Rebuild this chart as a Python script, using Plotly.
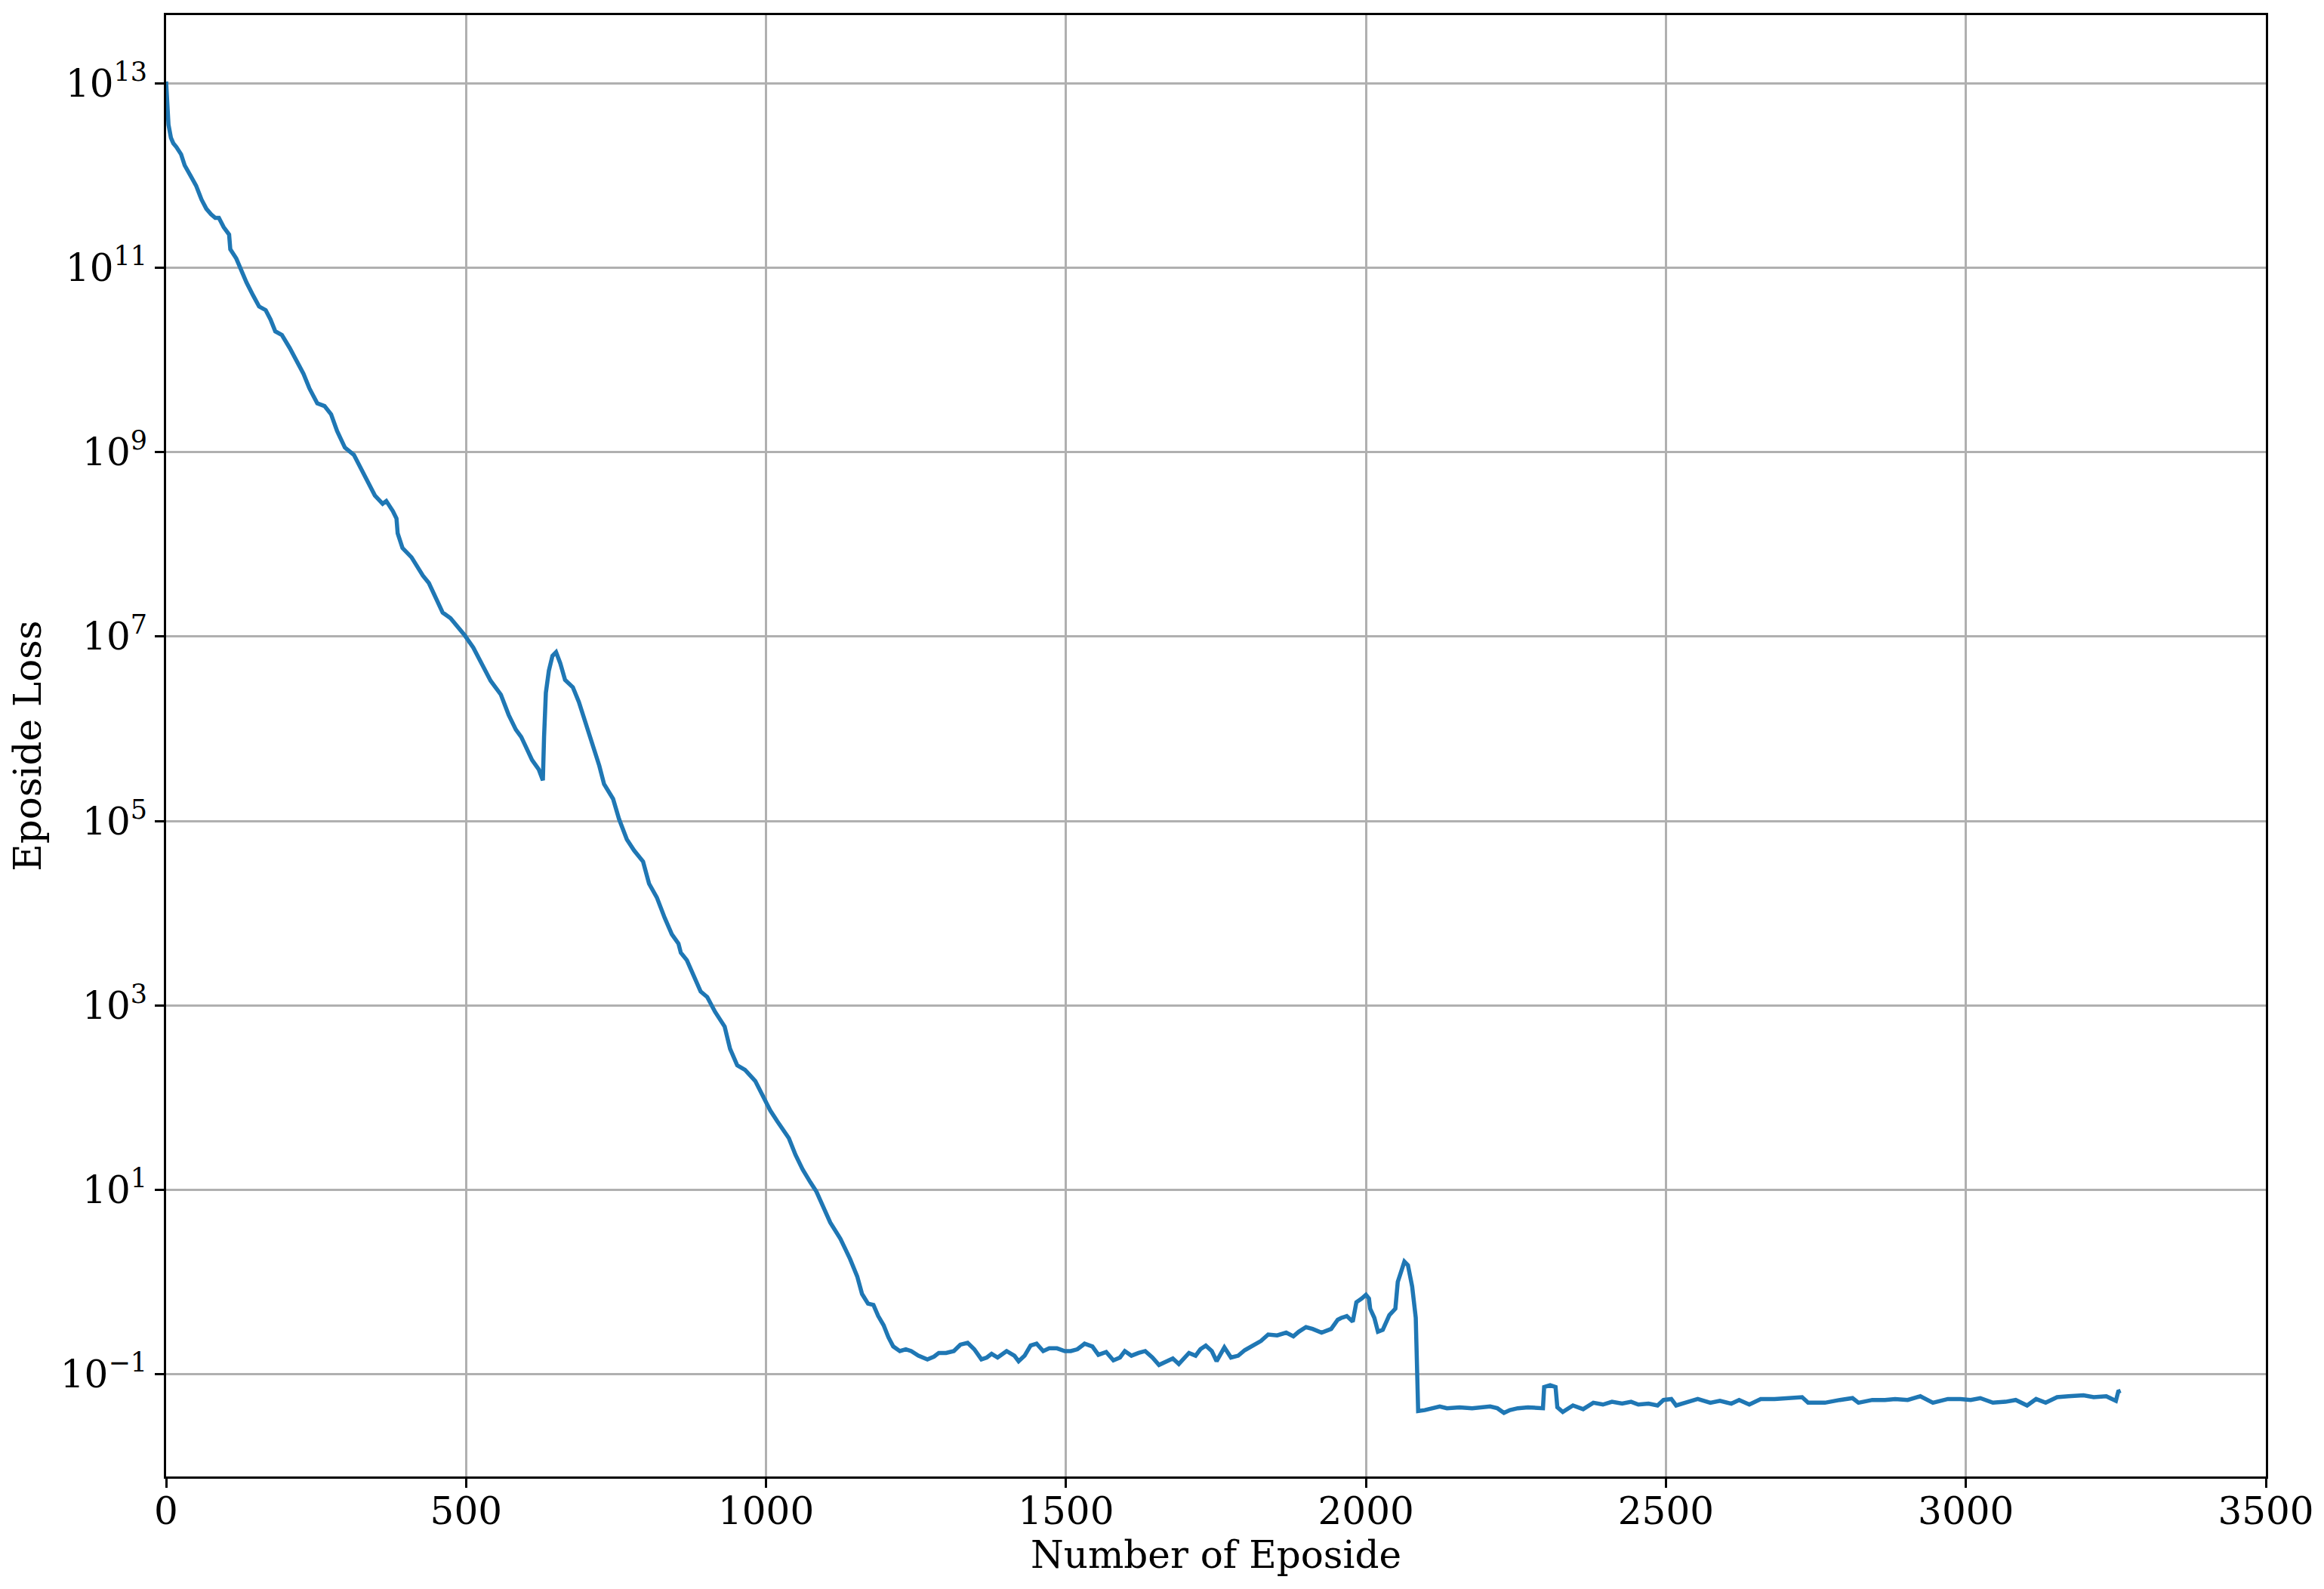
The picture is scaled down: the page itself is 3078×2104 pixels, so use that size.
import numpy as np
import plotly.graph_objects as go

# Episode numbers and loss values (log10 of loss)
episodes = [
    0, 2, 4, 8, 12, 17, 25, 31, 42, 50, 59, 67, 75, 82, 88, 96, 105, 107, 117, 126,
    134, 145, 155, 166, 174, 182, 193, 206, 216, 229, 239, 252, 264, 275, 285, 298,
    313, 323, 336, 348, 361, 367, 378, 384, 386, 394, 409, 422, 428, 438, 451, 461,
    474, 485, 497, 512, 541, 558, 571, 583, 592, 600, 610, 621, 628, 630, 633, 638,
    644, 650, 657, 665, 678, 688, 698, 711, 722, 730, 745, 755, 768, 780, 795, 805,
    818, 831, 843, 854, 858, 868, 875, 883, 891, 902, 915, 931, 940, 952, 965, 982,
    994, 1007, 1019, 1038, 1049, 1061, 1074, 1084, 1095, 1107, 1124, 1140, 1152, 1160,
    1170, 1179, 1187, 1196, 1204, 1212, 1223, 1233, 1242, 1254, 1269, 1280, 1288, 1300,
    1313, 1324, 1336, 1347, 1359, 1368, 1376, 1386, 1401, 1414, 1421, 1431, 1441, 1451,
    1462, 1472, 1485, 1498, 1508, 1519, 1531, 1544, 1554, 1567, 1579, 1590, 1598, 1609,
    1621, 1632, 1644, 1655, 1668, 1678, 1688, 1697, 1705, 1716, 1724, 1733, 1743, 1751,
    1764, 1775, 1787, 1798, 1812, 1825, 1837, 1852, 1867, 1879, 1888, 1900, 1911, 1926,
    1942, 1953, 1959, 1968, 1978, 1984, 1993, 2000, 2005, 2007, 2014, 2020, 2028, 2039,
    2049, 2053, 2060, 2064, 2070, 2077, 2083, 2086, 2087, 2098, 2110, 2123, 2135, 2156,
    2177, 2194, 2207, 2219, 2230, 2240, 2253, 2270, 2286, 2295, 2297, 2307, 2316, 2319,
    2328, 2345, 2362, 2379, 2395, 2410, 2427, 2442, 2454, 2471, 2486, 2496, 2509, 2517,
    2532, 2553, 2574, 2590, 2609, 2622, 2639, 2658, 2681, 2702, 2727, 2737, 2765, 2790,
    2811, 2821, 2844, 2865, 2882, 2903, 2924, 2945, 2970, 2991, 3008, 3024, 3045, 3066,
    3083, 3102, 3117, 3133, 3152, 3171, 3196, 3213, 3234, 3250, 3254, 3258,
]
loss_log10 = [
    13.02, 12.80, 12.55, 12.41, 12.35, 12.31, 12.23, 12.11, 11.99, 11.89, 11.74, 11.64, 11.58, 11.54, 11.54, 11.44, 11.36, 11.20, 11.10, 10.96,
    10.84, 10.70, 10.58, 10.54, 10.44, 10.31, 10.27, 10.13, 10.01, 9.85, 9.69, 9.53, 9.50, 9.41, 9.23, 9.05,
    8.97, 8.85, 8.69, 8.53, 8.44, 8.47, 8.36, 8.28, 8.12, 7.96, 7.86, 7.72, 7.66, 7.58, 7.40, 7.26,
    7.20, 7.12, 7.02, 6.88, 6.52, 6.37, 6.15, 5.99, 5.91, 5.80, 5.66, 5.56, 5.44, 5.91, 6.39, 6.63,
    6.79, 6.83, 6.71, 6.53, 6.45, 6.29, 6.09, 5.85, 5.60, 5.40, 5.24, 5.02, 4.80, 4.68, 4.56, 4.32,
    4.17, 3.95, 3.77, 3.67, 3.57, 3.49, 3.39, 3.27, 3.15, 3.09, 2.93, 2.77, 2.53, 2.35, 2.30, 2.18,
    2.02, 1.86, 1.74, 1.56, 1.38, 1.22, 1.08, 0.98, 0.82, 0.645, 0.467, 0.25, 0.06, -0.13,
    -0.235, -0.25, -0.37, -0.47, -0.60, -0.70, -0.75, -0.73, -0.75, -0.80, -0.84, -0.81, -0.77, -0.77,
    -0.75, -0.68, -0.66, -0.73, -0.84, -0.82, -0.78, -0.82, -0.75, -0.80, -0.86, -0.80, -0.69, -0.67,
    -0.75, -0.72, -0.72, -0.75, -0.75, -0.73, -0.67, -0.70, -0.79, -0.76, -0.85, -0.82, -0.75, -0.80,
    -0.77, -0.75, -0.82, -0.90, -0.86, -0.83, -0.89, -0.82, -0.77, -0.80, -0.73, -0.69, -0.75, -0.86,
    -0.71, -0.82, -0.80, -0.74, -0.69, -0.64, -0.57, -0.58, -0.55, -0.59, -0.54, -0.49, -0.51, -0.55,
    -0.51, -0.41, -0.39, -0.37, -0.43, -0.22, -0.18, -0.14, -0.18, -0.29, -0.39, -0.54, -0.52, -0.36,
    -0.29, 0.00, 0.14, 0.22, 0.18, -0.05, -0.39, -0.99, -1.40, -1.39, -1.37, -1.35, -1.37, -1.36,
    -1.37, -1.36, -1.35, -1.37, -1.42, -1.39, -1.37, -1.36, -1.37, -1.37, -1.14, -1.12, -1.14, -1.36,
    -1.41, -1.34, -1.38, -1.31, -1.33, -1.30, -1.32, -1.30, -1.33, -1.32, -1.34, -1.28, -1.27, -1.34,
    -1.31, -1.27, -1.31, -1.29, -1.32, -1.28, -1.33, -1.27, -1.27, -1.26, -1.25, -1.31, -1.31, -1.28,
    -1.26, -1.31, -1.28, -1.28, -1.27, -1.28, -1.24, -1.31, -1.27, -1.27, -1.28, -1.26, -1.31, -1.30,
    -1.28, -1.34, -1.27, -1.31, -1.25, -1.24, -1.23, -1.25, -1.24, -1.29, -1.19, -1.18,
]

x_ticks = [0, 500, 1000, 1500, 2000, 2500, 3000, 3500]
y_tick_exponents = [-1, 1, 3, 5, 7, 9, 11, 13]

loss = np.power(10.0, np.array(loss_log10))
y_tickvals = [10.0 ** e for e in y_tick_exponents]
y_ticktext = [f"10<sup>{'−' + str(-e) if e < 0 else e}</sup>" for e in y_tick_exponents]

FONT = "DejaVu Serif"

fig = go.Figure()
fig.add_trace(go.Scatter(
    x=episodes, y=loss, mode="lines",
    line=dict(color="#1f77b4", width=5.5),
    showlegend=False,
))

# page body has an 8px margin; figure sized so plot area lands at (220,20)-(3001,1955)
fig.update_layout(
    width=3070, height=2088,
    margin=dict(l=212, r=77, t=12, b=141),
    paper_bgcolor="white", plot_bgcolor="white",
    font=dict(family=FONT, size=50, color="black"),
)
fig.update_xaxes(
    range=[0, 3500], tickvals=x_ticks, ticktext=[str(v) for v in x_ticks],
    automargin=False,
    showgrid=True, gridcolor="#b0b0b0", gridwidth=3,
    showline=True, linecolor="black", linewidth=3, mirror=True,
    ticks="outside", ticklen=12, tickwidth=3, tickcolor="black",
    ticklabelstandoff=-12,
    zeroline=False,
    tickfont=dict(family=FONT, size=50),
    title=dict(text="Number of Eposide", font=dict(family=FONT, size=50), standoff=4),
)
fig.update_yaxes(
    type="log", range=[-2.11, 13.74],
    tickvals=y_tickvals, ticktext=y_ticktext,
    automargin=False,
    showgrid=True, gridcolor="#b0b0b0", gridwidth=3,
    showline=True, linecolor="black", linewidth=3, mirror=True,
    ticks="outside", ticklen=12, tickwidth=3, tickcolor="black",
    zeroline=False,
    tickfont=dict(family=FONT, size=50),
    title=dict(text="Eposide Loss", font=dict(family=FONT, size=50), standoff=10),
)

fig.write_html("out.html")
